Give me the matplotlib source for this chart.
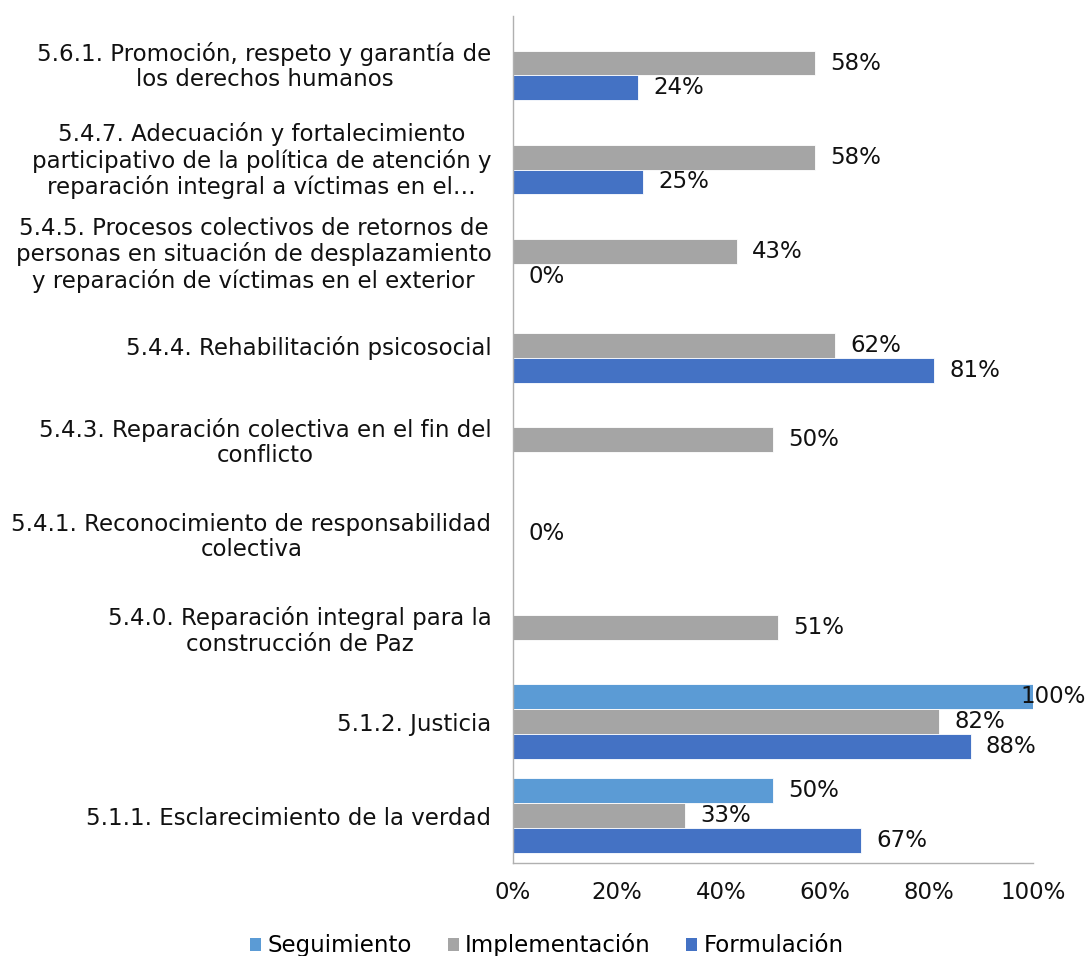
import numpy as np
import matplotlib.pyplot as plt
from matplotlib.patches import Patch

categories = [
    "5.1.1. Esclarecimiento de la verdad",
    "5.1.2. Justicia",
    "5.4.0. Reparación integral para la\nconstrucción de Paz",
    "5.4.1. Reconocimiento de responsabilidad\ncolectiva",
    "5.4.3. Reparación colectiva en el fin del\nconflicto",
    "5.4.4. Rehabilitación psicosocial",
    "5.4.5. Procesos colectivos de retornos de\npersonas en situación de desplazamiento\ny reparación de víctimas en el exterior",
    "5.4.7. Adecuación y fortalecimiento\nparticipativo de la política de atención y\nreparación integral a víctimas en el…",
    "5.6.1. Promoción, respeto y garantía de\nlos derechos humanos",
]
nan = np.nan
seguimiento = [50, 100, nan, nan, nan, nan, nan, nan, nan]
implementacion = [33, 82, 51, 0, 50, 62, 43, 58, 58]
formulacion = [67, 88, nan, nan, nan, 81, 0, 25, 24]

series_names = ["Seguimiento", "Implementación", "Formulación"]
colors = ["#5B9BD5", "#A5A5A5", "#4472C4"]
x_ticks = [0, 20, 40, 60, 80, 100]

plt.rcParams["font.family"] = ["DejaVu Sans"]
fs = 16.5
txt = "#111111"

fig = plt.figure(figsize=(10.88, 9.56), dpi=100)
ax = fig.add_axes([0.4715, 0.0976, 0.9494 - 0.4715, 0.9833 - 0.0976])

y = np.arange(len(categories))
h = 0.264
offsets = [h, 0, -h]
for vals, off, col in zip([seguimiento, implementacion, formulacion], offsets, colors):
    v = np.array(vals, dtype=float)
    mask = ~np.isnan(v)
    ax.barh(y[mask] + off, v[mask], height=h, color=col, edgecolor="white", linewidth=0.6)
    for yi, vi in zip(y[mask], v[mask]):
        dx = 11 if vi < 95 else -9
        ax.annotate(f"{vi:.0f}%", (vi, yi + off), xytext=(dx, 0), textcoords="offset points",
                    ha="left", va="center", fontsize=fs, color=txt)

ax.set_xlim(0, 100)
ax.set_ylim(-0.5, len(categories) - 0.5)
ax.set_yticks(y)
ax.set_yticklabels(categories, fontsize=fs, multialignment="center", color=txt,
                   linespacing=1.12)
ax.set_xticks(x_ticks)
ax.set_xticklabels([f"{t}%" for t in x_ticks], fontsize=fs, color=txt)
ax.tick_params(axis="both", length=0)
ax.tick_params(axis="y", pad=15.5)
ax.tick_params(axis="x", pad=13)
for s in ["top", "right"]:
    ax.spines[s].set_visible(False)
for s in ["left", "bottom"]:
    ax.spines[s].set_color("#B0B0B0")
    ax.spines[s].set_linewidth(1.0)

handles = [Patch(facecolor=c, edgecolor="none") for c in colors]
fig.legend(handles, series_names, loc="center", bbox_to_anchor=(0.503, 0.011), ncol=3,
           frameon=False, fontsize=fs, handlelength=0.48, handleheight=0.48,
           handletextpad=0.28, columnspacing=1.55)

fig.savefig("out.png", dpi=100)
